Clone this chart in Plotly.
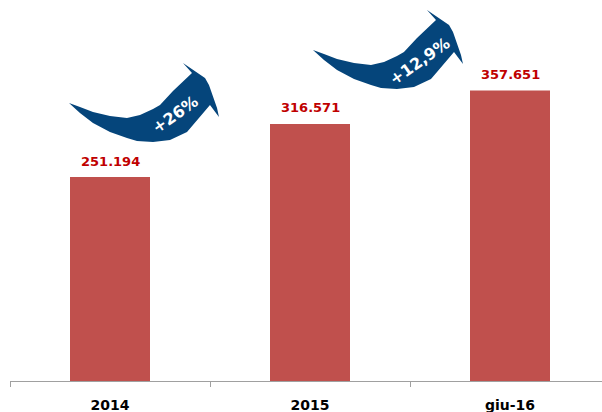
import plotly.graph_objects as go

# --- data ---------------------------------------------------------------
categories = ["2014", "2015", "giu-16"]
values = [251194, 316571, 357651]
growth_labels = ["+26%", "+12,9%"]

# --- styling ------------------------------------------------------------
BAR_COLOR = "#C0504D"
VALUE_COLOR = "#C00000"
ARROW_COLOR = "#05457B"
FONT = "DejaVu Sans"

W, H = 602, 412
M_L, M_R, M_T, M_B = 10, 0, 0, 31
PLOT_W = W - M_L - M_R
PLOT_H = H - M_T - M_B


def fmt_it(v):
    return f"{v:,}".replace(",", ".")


def px_to_paper(px, py):
    return (px - M_L) / PLOT_W, (H - M_B - py) / PLOT_H


# Outline of the curved "growth" arrow, in pixels relative to its tail point
ARROW_OUTLINE = [
    # upper edge of the shaft, tail -> head
    (0, 0), (11, 4), (24, 9), (41, 13), (58, 15), (71, 12), (84, 6),
    (91, 2), (104, -12), (123, -30),
    # arrow head
    (114, -40), (136, -25), (140, -18), (148, 5), (150, 14), (141, 2),
    # lower edge of the shaft, head -> tail
    (124, 22), (118, 29), (101, 37), (84, 39), (68, 38),
    (58, 35), (41, 29), (24, 20), (11, 10),
]
ARROW_TAILS = [(69, 103), (313, 50)]
TEXT_OFFSET = (106, 11)


def arrow_path(tail):
    tx, ty = tail
    pts = [px_to_paper(tx + dx, ty + dy) for dx, dy in ARROW_OUTLINE]
    return "M " + " L ".join(f"{x:.4f},{y:.4f}" for x, y in pts) + " Z"


fig = go.Figure(
    go.Bar(
        x=categories,
        y=values,
        width=0.4,
        marker=dict(color=BAR_COLOR, line=dict(width=0)),
        hoverinfo="skip",
    )
)

# value labels above each bar
for i, val in enumerate(values):
    fig.add_annotation(
        x=i, y=val, xref="x", yref="y",
        text=fmt_it(val), showarrow=False,
        yanchor="middle", yshift=16,
        font=dict(family=FONT, size=13, color=VALUE_COLOR, weight="bold"),
    )

# curved growth arrows with their percentage text
for tail, label in zip(ARROW_TAILS, growth_labels):
    fig.add_shape(
        type="path", path=arrow_path(tail), xref="paper", yref="paper",
        fillcolor=ARROW_COLOR, line=dict(width=0), layer="above",
    )
    cx, cy = px_to_paper(tail[0] + TEXT_OFFSET[0], tail[1] + TEXT_OFFSET[1])
    fig.add_annotation(
        x=cx, y=cy, xref="paper", yref="paper", text=label,
        showarrow=False, textangle=-35,
        xanchor="center", yanchor="middle",
        font=dict(family=FONT, size=16, color="white", weight="bold"),
    )

y_top = PLOT_H * (values[0] / 204.0)

fig.update_layout(
    width=W, height=H,
    margin=dict(l=M_L, r=M_R, t=M_T, b=M_B, pad=0, autoexpand=False),
    paper_bgcolor="white", plot_bgcolor="white",
    showlegend=False,
    xaxis=dict(
        type="category",
        range=[-0.5, -0.5 + 3 * PLOT_W / 600],
        showline=True, linecolor="#A0A0A0", linewidth=1,
        ticks="outside", tickson="boundaries", ticklen=5,
        tickcolor="#A0A0A0", tickwidth=1,
        showgrid=False, zeroline=False, automargin=False,
        tickfont=dict(family=FONT, size=14, color="black", weight="bold"),
        ticklabelstandoff=11,
    ),
    yaxis=dict(
        range=[0, y_top], visible=False, showgrid=False, zeroline=False,
        automargin=False,
    ),
)

fig.write_html("out.html")
